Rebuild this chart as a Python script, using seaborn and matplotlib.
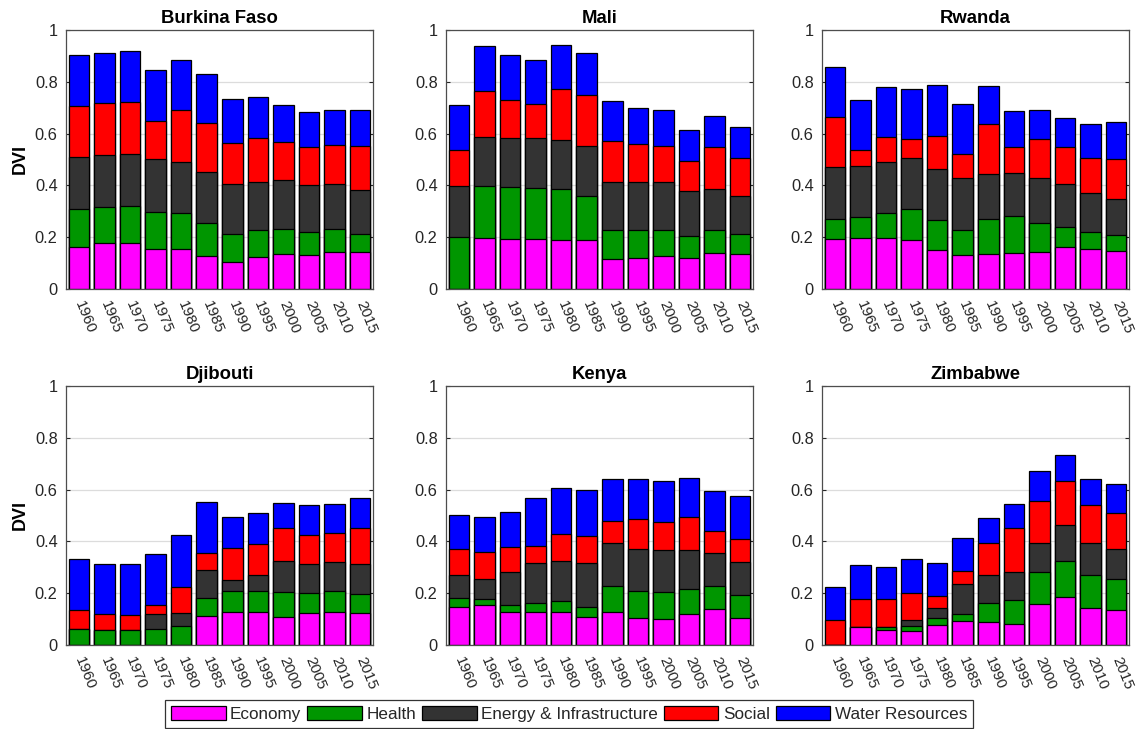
import numpy as np
import pandas as pd
import matplotlib
matplotlib.use("Agg")
import matplotlib.pyplot as plt
from matplotlib.patches import Patch
import seaborn as sns

years = ["1960", "1965", "1970", "1975", "1980", "1985", "1990", "1995", "2000", "2005", "2010", "2015"]
countries = ["Burkina Faso", "Mali", "Rwanda", "Djibouti", "Kenya", "Zimbabwe"]
categories = ["Economy", "Health", "Energy & Infrastructure", "Social", "Water Resources"]

# Burkina Faso
bf_economy = [0.164, 0.178, 0.178, 0.154, 0.154, 0.127, 0.104, 0.123, 0.136, 0.131, 0.141, 0.142]
bf_health = [0.145, 0.139, 0.144, 0.145, 0.138, 0.126, 0.110, 0.103, 0.096, 0.088, 0.090, 0.070]
bf_energy = [0.200, 0.200, 0.200, 0.201, 0.200, 0.200, 0.192, 0.188, 0.187, 0.181, 0.173, 0.169]
bf_social = [0.199, 0.200, 0.200, 0.149, 0.200, 0.189, 0.156, 0.168, 0.150, 0.147, 0.151, 0.173]
bf_water = [0.196, 0.195, 0.196, 0.195, 0.194, 0.190, 0.170, 0.158, 0.141, 0.135, 0.135, 0.138]

# Mali
ml_economy = [0.000, 0.197, 0.194, 0.192, 0.190, 0.190, 0.115, 0.118, 0.126, 0.118, 0.138, 0.137]
ml_health = [0.199, 0.200, 0.200, 0.199, 0.195, 0.170, 0.114, 0.111, 0.100, 0.088, 0.090, 0.077]
ml_energy = [0.197, 0.191, 0.188, 0.192, 0.189, 0.191, 0.185, 0.183, 0.186, 0.173, 0.157, 0.146]
ml_social = [0.142, 0.176, 0.146, 0.131, 0.200, 0.199, 0.158, 0.146, 0.141, 0.117, 0.164, 0.145]
ml_water = [0.172, 0.174, 0.176, 0.171, 0.170, 0.162, 0.152, 0.139, 0.137, 0.116, 0.119, 0.121]

# Rwanda
rw_economy = [0.194, 0.196, 0.196, 0.191, 0.149, 0.131, 0.136, 0.140, 0.142, 0.163, 0.155, 0.146]
rw_health = [0.077, 0.081, 0.099, 0.117, 0.119, 0.098, 0.135, 0.141, 0.113, 0.077, 0.064, 0.062]
rw_energy = [0.200, 0.197, 0.196, 0.197, 0.197, 0.199, 0.173, 0.168, 0.172, 0.166, 0.152, 0.138]
rw_social = [0.193, 0.062, 0.096, 0.074, 0.127, 0.093, 0.193, 0.100, 0.152, 0.143, 0.133, 0.154]
rw_water = [0.192, 0.193, 0.192, 0.193, 0.194, 0.193, 0.145, 0.138, 0.111, 0.111, 0.134, 0.144]

# Djibouti
dj_economy = [0.000, 0.000, 0.000, 0.000, 0.000, 0.113, 0.127, 0.126, 0.108, 0.124, 0.128, 0.124]
dj_health = [0.063, 0.059, 0.056, 0.063, 0.073, 0.069, 0.083, 0.083, 0.095, 0.076, 0.080, 0.073]
dj_energy = [0.000, 0.000, 0.000, 0.058, 0.049, 0.108, 0.040, 0.060, 0.120, 0.112, 0.111, 0.115]
dj_social = [0.074, 0.059, 0.059, 0.032, 0.102, 0.064, 0.123, 0.122, 0.128, 0.111, 0.113, 0.138]
dj_water = [0.194, 0.196, 0.197, 0.198, 0.199, 0.199, 0.122, 0.119, 0.096, 0.117, 0.113, 0.118]

# Kenya
ke_economy = [0.146, 0.153, 0.127, 0.127, 0.127, 0.108, 0.127, 0.105, 0.101, 0.119, 0.140, 0.105]
ke_health = [0.035, 0.026, 0.027, 0.035, 0.041, 0.038, 0.102, 0.105, 0.105, 0.096, 0.086, 0.089]
ke_energy = [0.088, 0.077, 0.129, 0.155, 0.156, 0.171, 0.165, 0.162, 0.162, 0.152, 0.128, 0.125]
ke_social = [0.103, 0.103, 0.094, 0.066, 0.105, 0.104, 0.084, 0.113, 0.106, 0.129, 0.088, 0.091]
ke_water = [0.129, 0.135, 0.138, 0.185, 0.177, 0.176, 0.163, 0.156, 0.158, 0.149, 0.153, 0.166]

# Zimbabwe
zw_economy = [0.000, 0.069, 0.059, 0.053, 0.078, 0.092, 0.090, 0.081, 0.158, 0.185, 0.142, 0.137]
zw_health = [0.000, 0.000, 0.010, 0.021, 0.028, 0.026, 0.073, 0.091, 0.123, 0.141, 0.129, 0.119]
zw_energy = [0.000, 0.000, 0.000, 0.023, 0.038, 0.117, 0.108, 0.111, 0.113, 0.136, 0.124, 0.115]
zw_social = [0.095, 0.110, 0.109, 0.104, 0.044, 0.050, 0.124, 0.168, 0.161, 0.171, 0.145, 0.137]
zw_water = [0.128, 0.130, 0.123, 0.130, 0.130, 0.129, 0.095, 0.095, 0.116, 0.102, 0.101, 0.113]

country_data = {
    "Burkina Faso": [bf_economy, bf_health, bf_energy, bf_social, bf_water],
    "Mali": [ml_economy, ml_health, ml_energy, ml_social, ml_water],
    "Rwanda": [rw_economy, rw_health, rw_energy, rw_social, rw_water],
    "Djibouti": [dj_economy, dj_health, dj_energy, dj_social, dj_water],
    "Kenya": [ke_economy, ke_health, ke_energy, ke_social, ke_water],
    "Zimbabwe": [zw_economy, zw_health, zw_energy, zw_social, zw_water],
}

colors = ["#FF00FF", "#009600", "#333333", "#FF0000", "#0000FF"]

sns.set_style("white")
plt.rcParams["font.family"] = ["Liberation Sans", "DejaVu Sans"]

fig = plt.figure(figsize=(11.38, 7.29), dpi=100)

W, H = 1138.0, 729.0
lefts = [66, 446, 822]
tops = [30, 386]
aw, ah = 307, 259
text_col = "#262626"

for i, country in enumerate(countries):
    r, c = divmod(i, 3)
    ax = fig.add_axes([lefts[c] / W, 1 - (tops[r] + ah) / H, aw / W, ah / H])
    df = pd.DataFrame({"Year": years})
    comps = country_data[country]
    cum = np.zeros(len(years))
    for k, cat in enumerate(categories):
        cum = cum + np.array(comps[k])
        df[cat] = cum
    for k in range(len(categories) - 1, -1, -1):
        sns.barplot(data=df, x="Year", y=categories[k], order=years, color=colors[k],
                    saturation=1, edgecolor="black", linewidth=0.9, width=0.8,
                    errorbar=None, ax=ax, zorder=2)
    ax.set_ylim(0, 1)
    ax.set_xlim(-0.5, 11.5)
    ax.set_yticks([0, 0.2, 0.4, 0.6, 0.8, 1.0])
    ax.set_yticklabels(["0", "0.2", "0.4", "0.6", "0.8", "1"])
    ax.set_xticks(range(len(years)))
    ax.set_xticklabels(years, rotation=-68, ha="left", va="center", rotation_mode="anchor")
    ax.yaxis.grid(True, color="#dcdcdc", linewidth=0.9, zorder=0)
    ax.xaxis.grid(False)
    ax.set_axisbelow(True)
    ax.tick_params(axis="y", direction="in", right=True, left=True, length=3,
                   labelsize=11.8, colors=text_col, labelcolor=text_col, pad=6)
    ax.tick_params(axis="x", length=0, labelsize=11, labelcolor=text_col, pad=9)
    for s in ax.spines.values():
        s.set_color("#4d4d4d")
        s.set_linewidth(0.9)
    ax.set_title(country, fontsize=13.3, fontweight="bold", color="black", pad=5)
    ax.set_xlabel("")
    if c == 0:
        ax.set_ylabel("DVI", fontsize=13, fontweight="bold", color="black", labelpad=4)
    else:
        ax.set_ylabel("")

handles = [Patch(facecolor=colors[k], edgecolor="black", linewidth=0.9) for k in range(5)]
leg = fig.legend(handles, categories, loc="lower center", bbox_to_anchor=(0.5, 0.0), ncol=5,
                 frameon=True, fancybox=False, edgecolor="black", fontsize=12.3,
                 handlelength=3.2, handleheight=0.9, columnspacing=0.35, handletextpad=0.25,
                 borderpad=0.35, borderaxespad=0.05)
leg.get_frame().set_linewidth(0.9)

fig.savefig("out.png", dpi=100)
